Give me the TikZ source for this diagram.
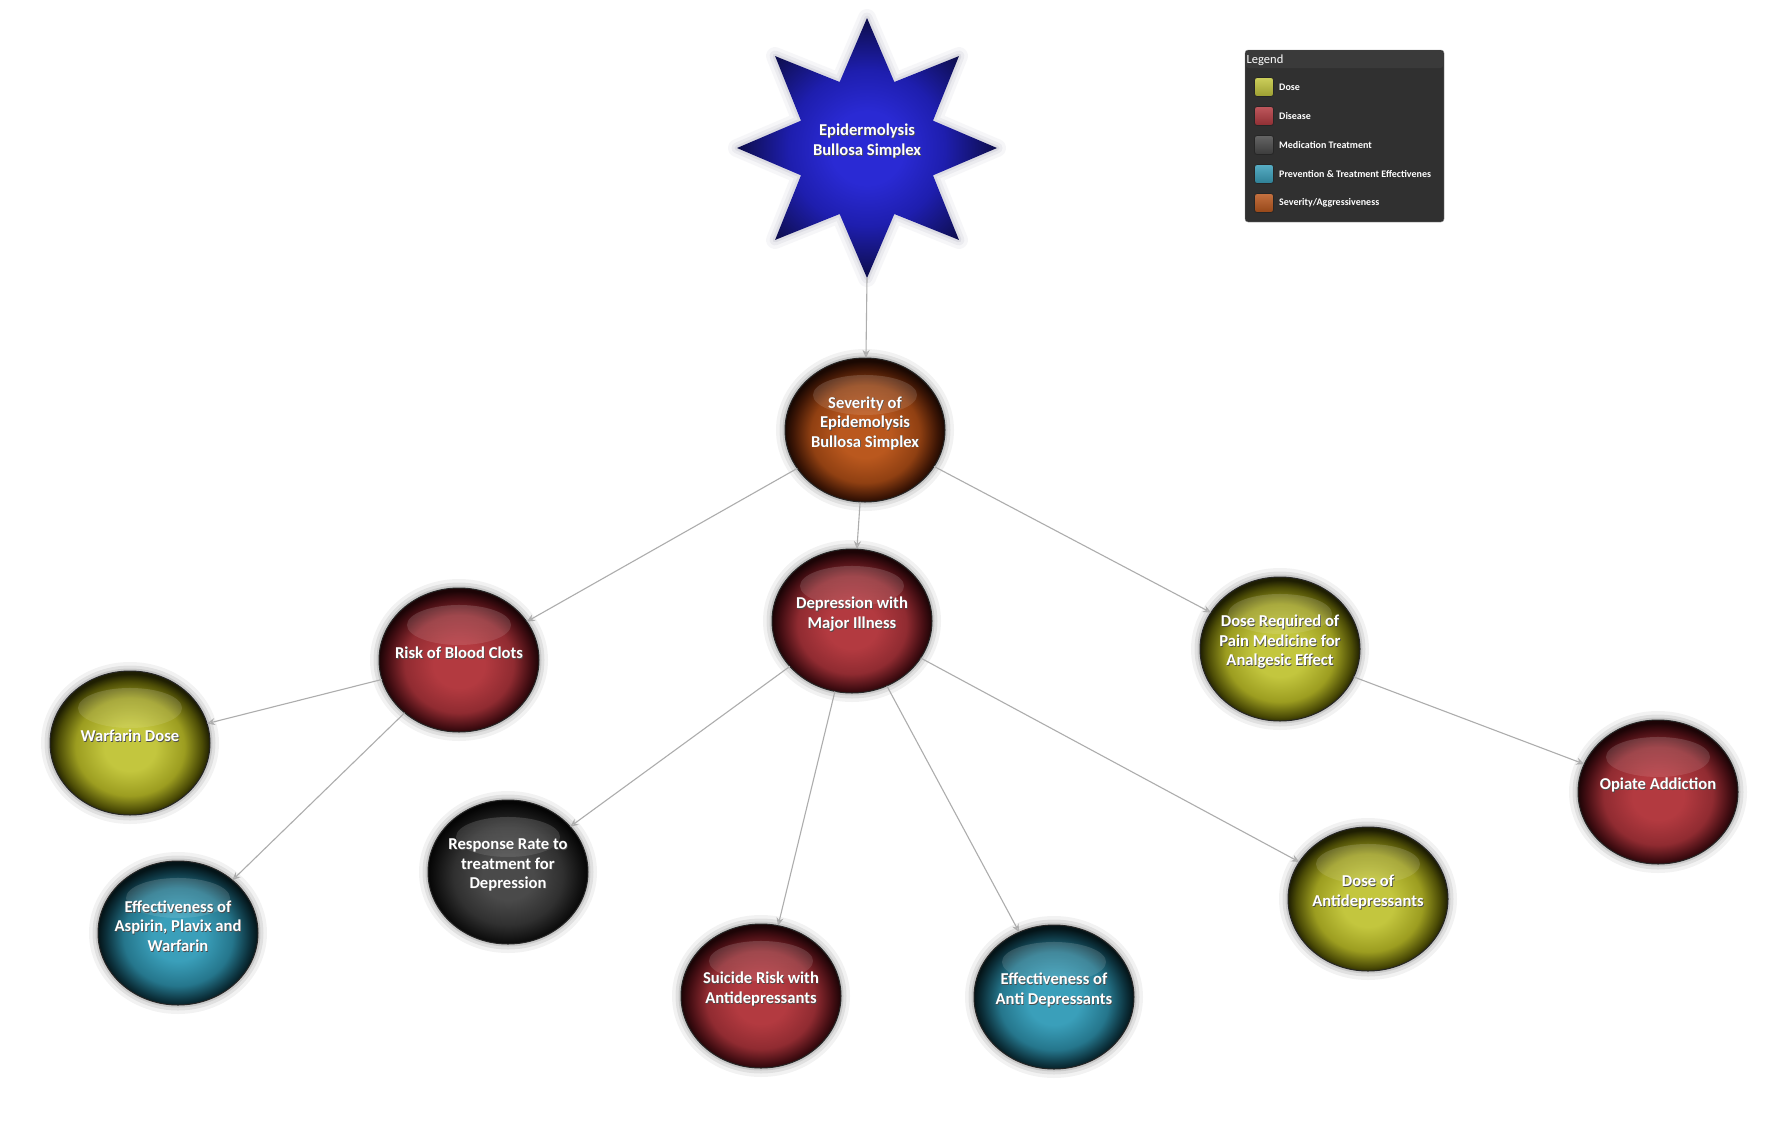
\documentclass[tikz,border=0pt]{standalone}
\usepackage{fontspec}
\setmainfont{Carlito}
\usetikzlibrary{shapes.geometric,arrows.meta,fadings}

% ball colours: centre / middle / dark / edge
\definecolor{Yc}{HTML}{C3C63E}\definecolor{Ym}{HTML}{9C9D20}\definecolor{Yd}{HTML}{4C4C06}\definecolor{Ye}{HTML}{1E1E02}
\definecolor{Rc}{HTML}{B33A40}\definecolor{Rm}{HTML}{902B31}\definecolor{Rd}{HTML}{420D12}\definecolor{Re}{HTML}{1C0406}
\definecolor{Kc}{HTML}{4A4A4A}\definecolor{Km}{HTML}{303030}\definecolor{Kd}{HTML}{121212}\definecolor{Ke}{HTML}{050505}
\definecolor{Tc}{HTML}{3A9FBA}\definecolor{Tm}{HTML}{25768C}\definecolor{Td}{HTML}{0C313C}\definecolor{Te}{HTML}{041418}
\definecolor{Bc}{HTML}{BA581E}\definecolor{Bm}{HTML}{904012}\definecolor{Bd}{HTML}{3E1605}\definecolor{Be}{HTML}{1A0802}
\definecolor{S1}{HTML}{2A2AD4}\definecolor{S2}{HTML}{1E1EAE}\definecolor{S3}{HTML}{0D0D4A}
\definecolor{lgbody}{HTML}{303030}\definecolor{lghead}{HTML}{3A3A3A}
\definecolor{halo}{HTML}{606080}

\pgfdeclareradialshading{shY}{\pgfpoint{0bp}{-2bp}}{color(0bp)=(Yc); color(8bp)=(Yc); color(17bp)=(Ym); color(22.5bp)=(Yd); color(25bp)=(Ye); color(50bp)=(Ye)}
\pgfdeclareradialshading{shR}{\pgfpoint{0bp}{-2bp}}{color(0bp)=(Rc); color(8bp)=(Rc); color(17bp)=(Rm); color(22.5bp)=(Rd); color(25bp)=(Re); color(50bp)=(Re)}
\pgfdeclareradialshading{shK}{\pgfpoint{0bp}{-2bp}}{color(0bp)=(Kc); color(8bp)=(Kc); color(17bp)=(Km); color(22.5bp)=(Kd); color(25bp)=(Ke); color(50bp)=(Ke)}
\pgfdeclareradialshading{shT}{\pgfpoint{0bp}{-2bp}}{color(0bp)=(Tc); color(8bp)=(Tc); color(17bp)=(Tm); color(22.5bp)=(Td); color(25bp)=(Te); color(50bp)=(Te)}
\pgfdeclareradialshading{shB}{\pgfpoint{0bp}{-2bp}}{color(0bp)=(Bc); color(8bp)=(Bc); color(17bp)=(Bm); color(22.5bp)=(Bd); color(25bp)=(Be); color(50bp)=(Be)}
\pgfdeclareradialshading{shS}{\pgfpoint{0bp}{0bp}}{color(0bp)=(S1); color(7bp)=(S1); color(15bp)=(S2); color(25bp)=(S3); color(50bp)=(S3)}

\newcommand\shd[1]{\makebox[0pt][l]{\hspace{0.7pt}\raisebox{-0.9pt}{\textcolor{black!70}{#1}}}#1}

\tikzset{
  glow/.style={
    preaction={draw=#1, draw opacity=0.05, line width=18pt, line join=round},
    preaction={draw=#1, draw opacity=0.07, line width=11pt, line join=round},
    preaction={draw=#1, draw opacity=0.10, line width=5pt, line join=round}},
  ball/.style={ellipse, minimum width=160, minimum height=144, inner sep=0, outer sep=0,
    glow=black, draw=black!85, line width=1pt, shade, shading=#1,
    path picture={\fill[white, fill opacity=0.17, path fading=south]
      ([yshift=35pt]path picture bounding box.center) ellipse [x radius=52, y radius=20];}},
  btxt/.style={align=center, text=white, inner sep=0,
    font=\fontsize{16.6}{19.5}\selectfont\bfseries},
  edge/.style={draw=black!32, line width=1.1pt, -{Stealth[length=8pt, width=7pt, fill=black!16]}},
  swatch/.style={minimum size=19, inner sep=0, rounded corners=2.5, draw=black!85, line width=0.8pt,
    top color=#1!85!white, bottom color=#1!80!black},
  lgtxt/.style={anchor=west, inner sep=0, text=white, font=\fontsize{10}{12}\selectfont\bfseries},
}

\begin{document}
\begin{tikzpicture}[x=1pt, y=-1pt]
\useasboundingbox (0,0) rectangle (1773,1122);
\fill[white] (0,0) rectangle (1773,1122);

% star
\node[star, star points=8, star point ratio=1.82, minimum size=260, inner sep=0, outer sep=0,
  glow=halo, shade, shading=shS]
  (ebs) at (867,148) {};
\node[btxt] (ebst) at ([yshift=6.5pt]ebs.center) {\shd{Epidermolysis}\\\shd{Bullosa Simplex}};

% balls
\node[ball=shB] (sev)  at (865,430) {};
\node[ball=shR] (dep)  at (852,621) {};
\node[ball=shR] (risk) at (459,660) {};
\node[ball=shY] (dreq) at (1280,649) {};
\node[ball=shY] (warf) at (130,743) {};
\node[ball=shT] (eff1) at (178,933) {};
\node[ball=shK] (resp) at (508,872) {};
\node[ball=shR] (sui)  at (761,996) {};
\node[ball=shT] (eff2) at (1054,997) {};
\node[ball=shY] (dant) at (1368,899) {};
\node[ball=shR] (opi)  at (1658,792) {};

\node[btxt] (sevt)  at ([yshift=6.5pt]sev.center)  {\shd{Severity of}\\\shd{Epidemolysis}\\\shd{Bullosa Simplex}};
\node[btxt] (dept)  at ([yshift=6.5pt]dep.center)  {\shd{Depression with}\\\shd{Major Illness}};
\node[btxt] (riskt) at ([yshift=6.5pt]risk.center) {\shd{Risk of Blood Clots}};
\node[btxt] (dreqt) at ([yshift=6.5pt]dreq.center) {\shd{Dose Required of}\\\shd{Pain Medicine for}\\\shd{Analgesic Effect}};
\node[btxt] (warft) at ([yshift=6.5pt]warf.center) {\shd{Warfarin Dose}};
\node[btxt] (eff1t) at ([yshift=6.5pt]eff1.center) {\shd{Effectiveness of}\\\shd{Aspirin, Plavix and}\\\shd{Warfarin}};
\node[btxt] (respt) at ([yshift=6.5pt]resp.center) {\shd{Response Rate to}\\\shd{treatment for}\\\shd{Depression}};
\node[btxt] (suit)  at ([yshift=6.5pt]sui.center)  {\shd{Suicide Risk with}\\\shd{Antidepressants}};
\node[btxt] (eff2t) at ([yshift=6.5pt]eff2.center) {\shd{Effectiveness of}\\\shd{Anti Depressants}};
\node[btxt] (dantt) at ([yshift=6.5pt]dant.center) {\shd{Dose of}\\\shd{Antidepressants}};
\node[btxt] (opit)  at ([yshift=6.5pt]opi.center)  {\shd{Opiate Addiction}};

% connectors
\draw[edge] (ebs.outer point 5) -- (sev);
\draw[edge] (sev) -- (dep);
\draw[edge] (sev) -- (risk);
\draw[edge] (sev) -- (dreq);
\draw[edge] (risk) -- (warf);
\draw[edge] (risk) -- (eff1);
\draw[edge] (dep) -- (resp);
\draw[edge] (dep) -- (sui);
\draw[edge] (dep) -- (eff2);
\draw[edge] (dep) -- (dant);
\draw[edge] (dreq) -- (opi);

% legend
\node[draw=black!45, fill=lgbody, rounded corners=3, minimum width=199, minimum height=172,
  anchor=north west, inner sep=0, outer sep=0] (legend) at (1245,50) {};
\fill[lghead, rounded corners=2.5] (1246,51) rectangle (1443,68);
\node[anchor=base west, inner sep=0, text=white, font=\fontsize{12.5}{14}\selectfont] (lgt) at (1246.5,63.5) {Legend};
\node[swatch=Yc] (sw1) at (1264,87) {};
\node[swatch=Rc] (sw2) at (1264,116) {};
\node[swatch=Kc] (sw3) at (1264,145) {};
\node[swatch=Tc] (sw4) at (1264,174) {};
\node[swatch=Bc] (sw5) at (1264,203) {};
\node[lgtxt] (lg1) at (1279,87) {Dose};
\node[lgtxt] (lg2) at (1279,116) {Disease};
\node[lgtxt] (lg3) at (1279,145) {Medication Treatment};
\node[lgtxt] (lg4) at (1279,174) {Prevention \& Treatment Effectivenes};
\node[lgtxt] (lg5) at (1279,203) {Severity/Aggressiveness};
\end{tikzpicture}
\end{document}
